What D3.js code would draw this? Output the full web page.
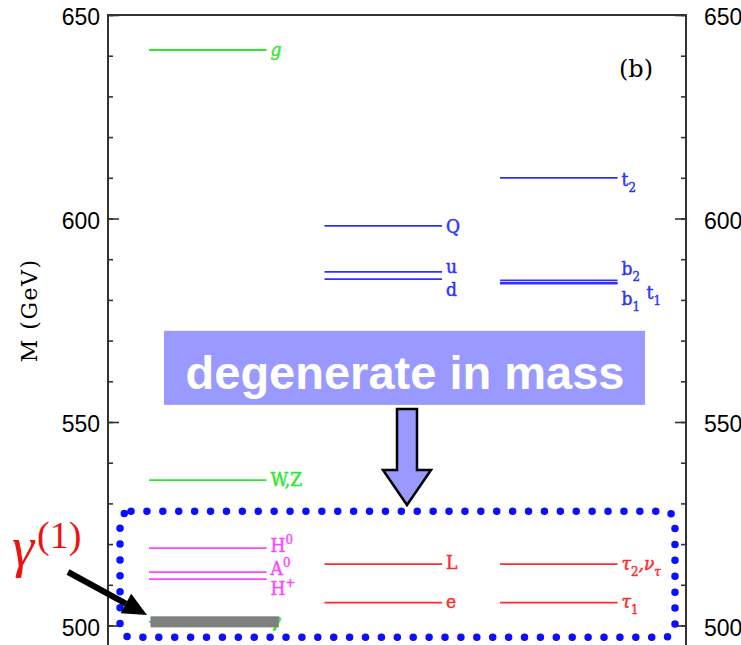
<!DOCTYPE html>
<html>
<head>
<meta charset="utf-8">
<script src="https://cdn.jsdelivr.net/npm/d3@7"></script>
<style>
  html, body { margin: 0; padding: 0; background: #fff; }
  svg { display: block; }
</style>
</head>
<body>
<svg id="chart" width="741" height="645"></svg>
<script>
// ---------- DATA ----------
const col1Names  = ["g", "W,Z", "H0", "A0", "H+", "γ"];
const col1Groups = ["gauge", "gauge", "higgs", "higgs", "higgs", "gauge"];
const col1Mass   = [641.4, 535.7, 519.0, 513.1, 511.4, 500.9];

const col2Names  = ["Q", "u", "d", "L", "e"];
const col2Groups = ["quark", "quark", "quark", "lepton", "lepton"];
const col2Mass   = [598.2, 586.9, 585.1, 515.1, 505.6];

const col3Names  = ["t2", "b2", "t1", "b1", "τ2,ντ", "τ1"];
const col3Groups = ["quark", "quark", "quark", "quark", "lepton", "lepton"];
const col3Mass   = [610.0, 584.8, 584.2, 584.0, 515.1, 505.6];

const majorTicks = [500, 550, 600, 650];
const minorTicks = d3.range(500, 651, 10);

// ---------- STYLES / LAYOUT ----------
const colors = { gauge: "#2ee82e", higgs: "#ff44ff", quark: "#3030ff", lepton: "#ff2a2a" };
const W = 741, H = 645;
const plot = { left: 108, right: 686, top: 15 };

const labelParts = {
  "g": [["g", null]], "W,Z": [["W,Z", null]],
  "H0": [["H", null], ["0", "sup"]], "A0": [["A", null], ["0", "sup"]],
  "H+": [["H", null], ["+", "sup"]], "γ": [["γ", null]],
  "Q": [["Q", null]], "u": [["u", null]], "d": [["d", null]],
  "L": [["L", null]], "e": [["e", null]],
  "t2": [["t", null], ["2", "sub"]], "b2": [["b", null], ["2", "sub"]],
  "t1": [["t", null], ["1", "sub"]], "b1": [["b", null], ["1", "sub"]],
  "τ2,ντ": [["τ", null], ["2", "sub"], [",ν", null], ["τ", "sub"]],
  "τ1": [["τ", null], ["1", "sub"]]
};
const labelDy = { "g": 6, "W,Z": 6, "H0": 4, "A0": 3, "H+": 16, "γ": 5,
  "Q": 7, "u": 1, "d": 17, "L": 5, "e": 5,
  "t2": 8, "b2": -5, "t1": 16, "b1": 21, "τ2,ντ": 6, "τ1": 5 };
const labelDx = { "t1": 25 };

const svg = d3.select("#chart");

const y = d3.scaleLinear().domain([495, 650]).range([645.85, plot.top]);
const x = d3.scaleLinear().domain([0, 1]).range([149, 324.5]); // column index -> x
const lineLen = 0.67;

// ---------- AXES ----------
const axisColor = "#333";
function styleAxis(g) {
  g.select(".domain").remove();
  g.selectAll(".tick line").attr("stroke", axisColor).attr("stroke-width", 1.6);
  g.selectAll(".tick text").attr("fill", "#000")
    .style("font-family", "Liberation Sans, Arial, sans-serif").style("font-size", "23px")
    .attr("dy", "0.42em");
}
svg.append("g").attr("transform", `translate(${plot.left},0)`)
  .call(d3.axisLeft(y).tickValues(minorTicks).tickSize(-5).tickSizeOuter(0).tickFormat(""))
  .call(styleAxis);
svg.append("g").attr("transform", `translate(${plot.right},0)`)
  .call(d3.axisRight(y).tickValues(minorTicks).tickSize(-5).tickSizeOuter(0).tickFormat(""))
  .call(styleAxis);
svg.append("g").attr("transform", `translate(${plot.left},0)`)
  .call(d3.axisLeft(y).tickValues(majorTicks).tickSize(-11).tickSizeOuter(0).tickPadding(8).tickFormat(d3.format("d")))
  .call(styleAxis);
svg.append("g").attr("transform", `translate(${plot.right},0)`)
  .call(d3.axisRight(y).tickValues(majorTicks).tickSize(-11).tickSizeOuter(0).tickPadding(18).tickFormat(d3.format("d")))
  .call(styleAxis);

svg.append("path")
  .attr("d", `M${plot.left},${H}V${plot.top}H${plot.right}V${H}`)
  .attr("fill", "none").attr("stroke", axisColor).attr("stroke-width", 2);

// y title
svg.append("text")
  .attr("transform", `translate(37,${y(564.7)}) rotate(-90)`)
  .attr("text-anchor", "start")
  .style("font-family", "DejaVu Serif, serif").style("font-size", "22px")
  .style("letter-spacing", "1.5px")
  .text("M (GeV)");

// (b)
svg.append("text").attr("x", 619).attr("y", 77)
  .style("font-family", "DejaVu Serif, serif").style("font-size", "24px")
  .text("(b)");

// ---------- LEVELS ----------
const levels = [];
[[col1Names, col1Groups, col1Mass], [col2Names, col2Groups, col2Mass], [col3Names, col3Groups, col3Mass]]
  .forEach(([names, groups, masses], ci) => {
    names.forEach((n, i) => levels.push({ col: ci, name: n, group: groups[i], mass: masses[i] }));
  });

svg.append("g").selectAll("line").data(levels).join("line")
  .attr("x1", d => x(d.col)).attr("x2", d => x(d.col + lineLen))
  .attr("y1", d => y(d.mass)).attr("y2", d => y(d.mass))
  .attr("stroke", d => colors[d.group]).attr("stroke-width", 1.8);

const labels = svg.append("g").selectAll("text").data(levels).join("text")
  .attr("x", d => x(d.col + lineLen) + 4 + (labelDx[d.name] || 0))
  .attr("y", d => y(d.mass) + labelDy[d.name])
  .attr("fill", d => colors[d.group])
  .attr("stroke", d => colors[d.group]).attr("stroke-width", 0.45)
  .style("font-family", "DejaVu Serif, serif")
  .style("font-stretch", "condensed")
  .style("font-size", "19px");
labels.each(function(d) {
  const t = d3.select(this);
  let shift = 0;
  labelParts[d.name].forEach(([txt, kind]) => {
    const sp = t.append("tspan").text(txt);
    if (txt === "g" || txt === "γ" || txt === "τ" || txt === ",ν") sp.style("font-style", "italic");
    if (kind === "sup") { sp.attr("dy", (-8 - shift) + "px").style("font-size", "13px"); shift = -8; }
    else if (kind === "sub") { sp.attr("dy", (6 - shift) + "px").style("font-size", "13px"); shift = 6; }
    else { sp.attr("dy", (-shift) + "px"); shift = 0; }
  });
});

// ---------- ANNOTATIONS ----------
const gam = levels.find(d => d.name === "γ");
svg.append("rect")
  .attr("x", x(gam.col) + 1.5).attr("width", x(gam.col + 0.74) - x(gam.col) - 1.5)
  .attr("y", y(gam.mass) - 5.5).attr("height", 11)
  .attr("fill", "#7f7f7f");

svg.append("rect")
  .attr("x", x(-0.165)).attr("y", y(528.1))
  .attr("width", x(2.997) - x(-0.165)).attr("height", y(497.1) - y(528.1))
  .attr("rx", 11).attr("ry", 11)
  .attr("fill", "none").attr("stroke", "#0a10ff").attr("stroke-width", 7.5)
  .attr("stroke-linecap", "round").attr("stroke-dasharray", "0 15.9");

const bx0 = 164, bx1 = 645;
svg.append("rect").attr("x", bx0).attr("y", y(572.4)).attr("width", bx1 - bx0)
  .attr("height", y(554.2) - y(572.4)).attr("fill", "#9999ff");
svg.append("text").attr("x", 405).attr("y", y(558.2))
  .attr("text-anchor", "middle").attr("fill", "#fff")
  .style("font-family", "Liberation Sans, Arial, sans-serif").style("font-weight", "bold")
  .style("font-size", "47px").text("degenerate in mass");

const ax = 407, aTop = 409, aNeck = 470, aTip = 505, sw = 10, hw = 24;
svg.append("path")
  .attr("d", `M${ax - sw},${aTop}H${ax + sw}V${aNeck}H${ax + hw}L${ax},${aTip}L${ax - hw},${aNeck}H${ax - sw}Z`)
  .attr("fill", "#9999ff").attr("stroke", "#000").attr("stroke-width", 2.5)
  .attr("stroke-linejoin", "miter");

const gl = svg.append("text").attr("x", 12).attr("y", 566).attr("fill", "#ee1111")
  .style("font-family", "Liberation Serif, serif");
gl.append("tspan").text("γ").style("font-style", "italic").style("font-size", "56px");
gl.append("tspan").text("(1)").attr("dx", "3").attr("dy", "-18").style("font-size", "38px");

const p0 = [68, 572], p1 = [147, 615];
const ang = Math.atan2(p1[1] - p0[1], p1[0] - p0[0]);
const hl = 24, hwid = 11;
const bxp = p1[0] - hl * Math.cos(ang), byp = p1[1] - hl * Math.sin(ang);
svg.append("line").attr("x1", p0[0]).attr("y1", p0[1]).attr("x2", bxp).attr("y2", byp)
  .attr("stroke", "#000").attr("stroke-width", 6);
svg.append("path")
  .attr("d", `M${p1[0]},${p1[1]}L${bxp + hwid * Math.sin(ang)},${byp - hwid * Math.cos(ang)}L${bxp - hwid * Math.sin(ang)},${byp + hwid * Math.cos(ang)}Z`)
  .attr("fill", "#000");
</script>
</body>
</html>
